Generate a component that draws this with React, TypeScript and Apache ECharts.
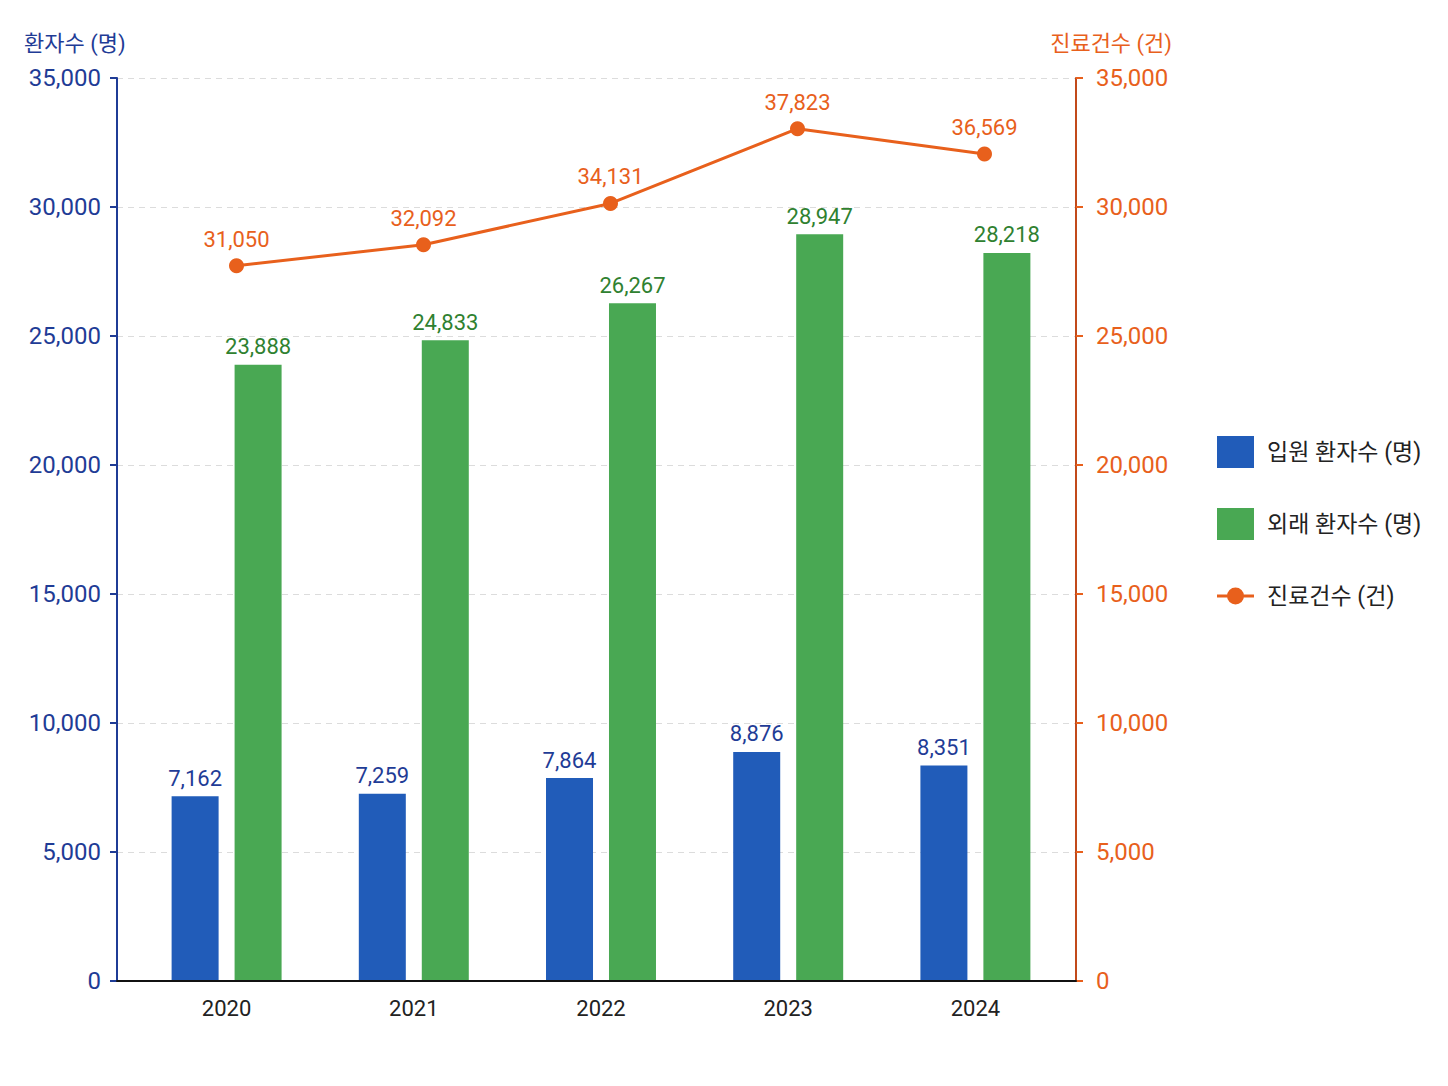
import React, { useEffect, useRef } from "react";
import * as echarts from "echarts";

const years = ["2020", "2021", "2022", "2023", "2024"];
const inpatients = [7162, 7259, 7864, 8876, 8351];
const outpatients = [23888, 24833, 26267, 28947, 28218];
const visits = [31050, 32092, 34131, 37823, 36569];

const leftTitle = "환자수 (명)";
const rightTitle = "진료건수 (건)";
const nameIn = "입원 환자수 (명)";
const nameOut = "외래 환자수 (명)";
const nameVisits = "진료건수 (건)";

const FONT = "Roboto, 'Noto Sans CJK KR', 'Noto Sans', sans-serif";
const NAVY = "#1f3c96";
const ORANGE = "#e8601c";
const BLUE = "#215cb9";
const GREEN = "#49a853";
const GREEN_TXT = "#2f8130";

const LINE_ICON =
  "path://M0,0 L0.02,0 L0,0.02 Z M0,32 L0.02,32 L0,31.98 Z M0,14.5 L37,14.5 L37,17.5 L0,17.5 Z M10,16 A8.5,8.5 0 1,1 27,16 A8.5,8.5 0 1,1 10,16 Z";

const fmt = (v: number) => v.toLocaleString("en-US");

export default function App() {
  const ref = useRef<HTMLDivElement>(null);
  useEffect(() => {
    if (!ref.current) return;
    const chart = echarts.init(ref.current, undefined, { renderer: "svg" });
    chart.setOption({
      animation: false,
      backgroundColor: "#ffffff",
      textStyle: { fontFamily: FONT },
      title: [
        {
          text: leftTitle,
          left: 19,
          top: 27,
          textStyle: { fontSize: 22, fontWeight: "normal", color: NAVY, fontFamily: FONT },
        },
        {
          text: rightTitle,
          right: 271,
          top: 27,
          textStyle: { fontSize: 22, fontWeight: "normal", color: ORANGE, fontFamily: FONT },
        },
      ],
      legend: {
        orient: "vertical",
        left: 1212,
        top: 431,
        itemWidth: 37,
        itemHeight: 32,
        itemGap: 40,
        symbolKeepAspect: true,
        textStyle: { fontSize: 23, color: "#222", fontFamily: FONT, padding: [0, 0, 0, 8] },
        data: [
          { name: nameIn, icon: "rect" },
          { name: nameOut, icon: "rect" },
          { name: nameVisits, icon: LINE_ICON, itemStyle: { color: ORANGE } },
        ],
      },
      grid: [
        { left: 133, right: 379, top: 78, bottom: 105 },
        { left: 117, right: 372, top: 78, bottom: 105 },
        { left: 143, right: 370, top: 78, bottom: 105 },
      ],
      xAxis: [
        {
          type: "category",
          gridIndex: 0,
          data: years,
          axisLine: { show: false },
          axisTick: { show: false },
          axisLabel: { fontSize: 22, color: "#222", margin: 16, fontFamily: FONT },
        },
        {
          type: "category",
          gridIndex: 1,
          data: years,
          axisLine: { show: true, lineStyle: { color: "#111", width: 2 } },
          axisTick: { show: false },
          axisLabel: { show: false },
          z: 5,
        },
        {
          type: "category",
          gridIndex: 2,
          data: years,
          show: false,
        },
      ],
      yAxis: [
        { type: "value", gridIndex: 0, show: false, min: 0, max: 35000, splitLine: { show: false } },
        { type: "value", gridIndex: 2, show: false, min: -4300, max: 40330, splitLine: { show: false } },
        {
          type: "value",
          gridIndex: 1,
          position: "left",
          min: 0,
          max: 35000,
          interval: 5000,
          axisLine: { show: true, lineStyle: { color: NAVY, width: 2 } },
          axisTick: { show: true, length: 7, lineStyle: { color: NAVY, width: 2 } },
          axisLabel: { fontSize: 24, color: NAVY, margin: 16, formatter: (v: number) => fmt(v), fontFamily: FONT },
          splitLine: { show: true, lineStyle: { color: "#dcdcdc", type: [6, 5], width: 1.2 } },
        },
        {
          type: "value",
          gridIndex: 1,
          position: "right",
          min: 0,
          max: 35000,
          interval: 5000,
          axisLine: { show: true, lineStyle: { color: "#c24a1a", width: 2 } },
          axisTick: { show: true, length: 7, lineStyle: { color: ORANGE, width: 2 } },
          axisLabel: { fontSize: 24, color: ORANGE, margin: 20, formatter: (v: number) => fmt(v), fontFamily: FONT },
          splitLine: { show: false },
        },
      ],
      series: [
        {
          name: nameIn,
          type: "bar",
          xAxisIndex: 0,
          yAxisIndex: 0,
          data: inpatients,
          barWidth: 47,
          barGap: "34%",
          itemStyle: { color: BLUE },
          label: {
            show: true,
            position: "top",
            distance: 7,
            fontSize: 22,
            color: NAVY,
            fontFamily: FONT,
            formatter: (p: any) => fmt(p.value),
          },
        },
        {
          name: nameOut,
          type: "bar",
          xAxisIndex: 0,
          yAxisIndex: 0,
          data: outpatients,
          barWidth: 47,
          barGap: "34%",
          itemStyle: { color: GREEN },
          label: {
            show: true,
            position: "top",
            distance: 7,
            fontSize: 22,
            color: GREEN_TXT,
            fontFamily: FONT,
            formatter: (p: any) => fmt(p.value),
          },
        },
        {
          name: nameVisits,
          type: "line",
          xAxisIndex: 2,
          yAxisIndex: 1,
          data: visits,
          z: 10,
          symbol: "circle",
          symbolSize: 15,
          lineStyle: { color: ORANGE, width: 3 },
          itemStyle: { color: ORANGE },
          label: {
            show: true,
            position: "top",
            distance: 8,
            fontSize: 22,
            color: ORANGE,
            fontFamily: FONT,
            formatter: (p: any) => fmt(p.value),
          },
        },
      ],
    });
    return () => chart.dispose();
  }, []);
  return (
    <div
      ref={ref}
      style={{ position: "absolute", left: 0, top: 0, width: 1448, height: 1086 }}
    />
  );
}
